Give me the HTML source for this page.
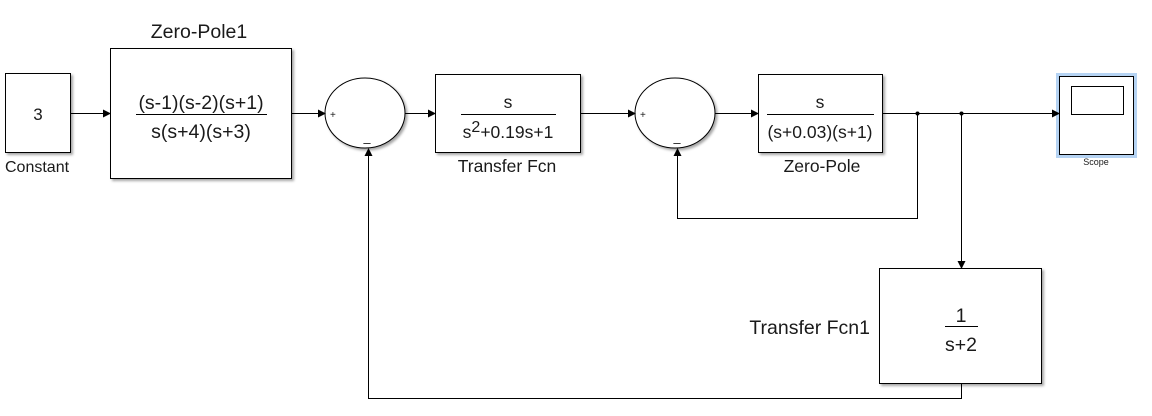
<!DOCTYPE html>
<html><head><meta charset="utf-8"><style>
html,body{margin:0;padding:0;background:#fff;}
svg{display:block;}
text{font-family:"Liberation Sans",Arial,sans-serif;fill:#1a1a1a;}
</style></head><body>
<svg width="1152" height="416" viewBox="0 0 1152 416" xmlns="http://www.w3.org/2000/svg">
<defs>
<marker id="a" markerWidth="8" markerHeight="8" refX="7" refY="4" orient="auto" markerUnits="userSpaceOnUse">
<path d="M0,0 L8,4 L0,8 z" fill="#000"/></marker>
<filter id="sh" x="-10%" y="-10%" width="130%" height="130%"><feDropShadow dx="2" dy="2" stdDeviation="1.2" flood-color="#000" flood-opacity="0.35"/></filter>
</defs>
<g stroke="#000" stroke-width="1" fill="#fff">
<rect x="5.5" y="73.5" width="65" height="79" filter="url(#sh)"/>
<rect x="110.5" y="48.5" width="181" height="130" filter="url(#sh)"/>
<ellipse cx="365" cy="113" rx="40" ry="35" filter="url(#sh)"/>
<rect x="435.5" y="74.5" width="145" height="78" filter="url(#sh)"/>
<ellipse cx="675" cy="113" rx="40" ry="35" filter="url(#sh)"/>
<rect x="758.5" y="74.5" width="124" height="78" filter="url(#sh)"/>
<rect x="879.5" y="268.5" width="162" height="115" filter="url(#sh)"/>
</g>
<rect x="1056" y="73" width="81" height="85" fill="#b5d3f3"/>
<rect x="1059.5" y="76.5" width="74" height="78" fill="#fff" stroke="#000"/>
<rect x="1071.5" y="86.5" width="52" height="28" fill="#fff" stroke="#000"/>
<g stroke="#000" stroke-width="1" fill="none">
<line x1="71" y1="113.5" x2="110" y2="113.5" marker-end="url(#a)"/>
<line x1="292" y1="113.5" x2="325" y2="113.5" marker-end="url(#a)"/>
<line x1="405" y1="113.5" x2="435" y2="113.5" marker-end="url(#a)"/>
<line x1="581" y1="113.5" x2="635" y2="113.5" marker-end="url(#a)"/>
<line x1="715" y1="113.5" x2="758" y2="113.5" marker-end="url(#a)"/>
<line x1="883" y1="113.5" x2="1059" y2="113.5" marker-end="url(#a)"/>
<polyline points="917.5,113 917.5,218.5 677.5,218.5 677.5,149" marker-end="url(#a)"/>
<line x1="961.5" y1="113" x2="961.5" y2="268" marker-end="url(#a)"/>
<polyline points="961.5,384 961.5,398.5 368.5,398.5 368.5,149" marker-end="url(#a)"/>
</g>
<circle cx="917.5" cy="113.5" r="2" fill="#000"/>
<circle cx="961.5" cy="113.5" r="2" fill="#000"/>
<text x="38" y="120" font-size="17" text-anchor="middle">3</text>
<text x="5" y="172" font-size="16">Constant</text>
<text x="199" y="38" font-size="19.5" text-anchor="middle">Zero-Pole1</text>
<text x="201" y="109" font-size="19.5" text-anchor="middle">(s-1)(s-2)(s+1)</text>
<line x1="136" y1="114.5" x2="267" y2="114.5" stroke="#000"/>
<text x="201" y="138" font-size="19.5" text-anchor="middle">s(s+4)(s+3)</text>
<text x="330" y="118" font-size="10">+</text>
<text x="367" y="147" font-size="13" text-anchor="middle">–</text>
<text x="640" y="118" font-size="10">+</text>
<text x="677" y="147" font-size="13" text-anchor="middle">–</text>
<text x="508" y="108" font-size="17.5" text-anchor="middle">s</text>
<line x1="461" y1="114.5" x2="556" y2="114.5" stroke="#000"/>
<text x="508" y="138" font-size="17.5" text-anchor="middle">s<tspan dy="-6" font-size="16">2</tspan><tspan dy="6">+0.19s+1</tspan></text>
<text x="507" y="172" font-size="17.5" text-anchor="middle">Transfer Fcn</text>
<text x="820" y="108" font-size="17.5" text-anchor="middle">s</text>
<line x1="767" y1="114.5" x2="874" y2="114.5" stroke="#000"/>
<text x="820" y="138" font-size="17.5" text-anchor="middle">(s+0.03)(s+1)</text>
<text x="822" y="172" font-size="17.5" text-anchor="middle">Zero-Pole</text>
<text x="1096" y="165" font-size="9" text-anchor="middle">Scope</text>
<text x="961" y="322" font-size="19.5" text-anchor="middle">1</text>
<line x1="945" y1="326.5" x2="978" y2="326.5" stroke="#000"/>
<text x="961" y="351" font-size="19.5" text-anchor="middle">s+2</text>
<text x="870" y="334" font-size="19.5" text-anchor="end">Transfer Fcn1</text>
</svg>
</body></html>
